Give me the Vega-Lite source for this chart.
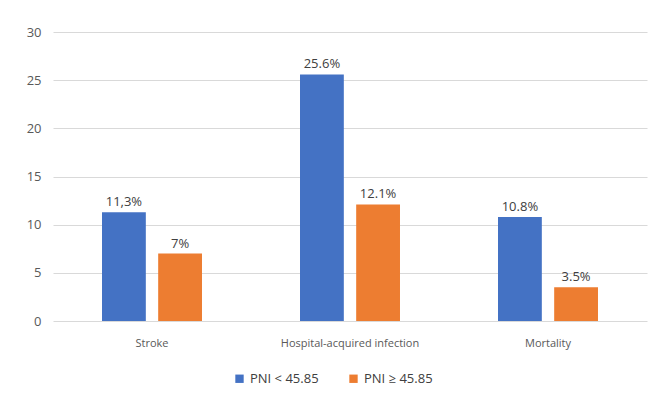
{
  "$schema": "https://vega.github.io/schema/vega-lite/v6.json",
  "autosize": {"type": "none"},
  "width": 594,
  "height": 289,
  "padding": {"left": 53, "top": 32, "right": 15, "bottom": 82},
  "background": "white",
  "data": {"values": [
    {"outcome": "Stroke", "group": "PNI < 45.85", "value": 11.3, "label": "11,3%"},
    {"outcome": "Stroke", "group": "PNI ≥ 45.85", "value": 7.0, "label": "7%"},
    {"outcome": "Hospital-acquired infection", "group": "PNI < 45.85", "value": 25.6, "label": "25.6%"},
    {"outcome": "Hospital-acquired infection", "group": "PNI ≥ 45.85", "value": 12.1, "label": "12.1%"},
    {"outcome": "Mortality", "group": "PNI < 45.85", "value": 10.8, "label": "10.8%"},
    {"outcome": "Mortality", "group": "PNI ≥ 45.85", "value": 3.5, "label": "3.5%"}
  ]},
  "encoding": {
    "x": {"field": "outcome", "type": "nominal", "sort": null,
      "scale": {"paddingInner": 0.495, "paddingOuter": 0.2475},
      "axis": {"title": null, "labelAngle": 0, "domain": false, "ticks": false, "labelPadding": 16, "labelFontSize": 11, "labelColor": "#595959", "labelFont": "Open Sans"}},
    "xOffset": {"field": "group", "type": "nominal", "scale": {"paddingInner": 0.22}},
    "y": {"field": "value", "type": "quantitative",
      "scale": {"domain": [0, 30]},
      "axis": {"title": null, "values": [0, 5, 10, 15, 20, 25, 30], "domain": false, "ticks": false, "labelPadding": 12, "labelFontSize": 13, "labelColor": "#595959", "labelFont": "Open Sans", "gridColor": "#d9d9d9"}},
    "color": {"field": "group", "type": "nominal",
      "scale": {"domain": ["PNI < 45.85", "PNI ≥ 45.85"], "range": ["#4472C4", "#ED7D31"]},
      "legend": {"title": null, "orient": "none", "legendX": 180, "legendY": 340, "direction": "horizontal", "symbolType": "square", "symbolSize": 70, "symbolStrokeWidth": 0, "labelFontSize": 13, "labelColor": "#404040", "labelFont": "Open Sans", "columnPadding": 28}}
  },
  "layer": [
    {"mark": {"type": "bar"}},
    {"mark": {"type": "text", "baseline": "bottom", "dy": -3, "fontSize": 13, "font": "Open Sans", "color": "#404040"},
     "encoding": {"text": {"field": "label"}, "color": {"value": "#404040"}}}
  ],
  "config": {"view": {"stroke": null}}
}
